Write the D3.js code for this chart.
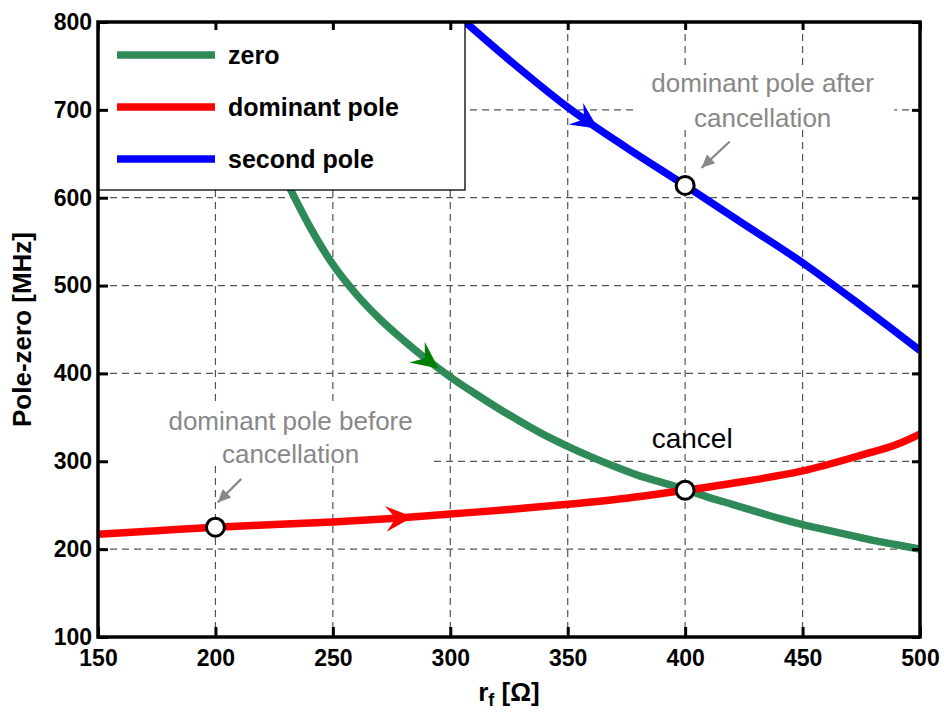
<!DOCTYPE html>
<html>
<head>
<meta charset="utf-8">
<style>
  body { margin: 0; background: #fff; }
  svg { display: block; font-family: "Liberation Sans", Arial, Helvetica, sans-serif; }
</style>
</head>
<body>
<div id="chart"></div>
<script src="https://cdn.jsdelivr.net/npm/d3@7"></script>
<script>
// axis ticks
var rfTicks = [150, 200, 250, 300, 350, 400, 450, 500];
var mhzTicks = [100, 200, 300, 400, 500, 600, 700, 800];

// zero
var zeroRf  = [200, 210, 220, 230, 240, 250, 260, 270, 280, 290, 300, 310, 320, 330, 340, 350,
               360, 370, 380, 390, 400, 410, 420, 430, 440, 450, 460, 470, 480, 490, 500];
var zeroMHz = [800, 738, 676, 620, 568, 524, 490, 462, 438, 416, 396, 378, 361, 345, 330, 317,
               305, 294, 284, 276, 268, 259, 251, 243, 235, 228, 222, 216, 210, 205, 200];

// dominant pole
var domRf  = [150, 175, 200, 225, 250, 275, 300, 325, 350, 375, 400, 425, 450, 475, 490, 500];
var domMHz = [217, 221, 225, 228, 231, 235, 240, 245, 251, 258, 267, 277, 289, 307, 319, 331];

// second pole
var secRf  = [300, 325, 350, 375, 400, 425, 450, 475, 500];
var secMHz = [815, 757, 703, 657, 614, 570, 526, 477, 426];

// open circles
var markRf  = [200, 400, 400];
var markMHz = [225, 267, 614];

// direction arrows on the curves
var flowSeries = ["second", "zero", "dominant"];
var flowRf     = [363, 295, 284];

var legendNames = ["zero", "dominant pole", "second pole"];

var width = 944, height = 713;
var margin = {top: 22, right: 24, bottom: 76, left: 98};

var svg = d3.select("#chart").append("svg")
  .attr("width", width)
  .attr("height", height);

var x = d3.scaleLinear().domain([150, 500]).range([margin.left, width - margin.right]);
var y = d3.scaleLinear().domain([100, 800]).range([height - margin.bottom, margin.top]);

var series = [
  {name: "zero",     rf: zeroRf, mhz: zeroMHz, color: "#2e8b57", head: "#008000"},
  {name: "dominant", rf: domRf,  mhz: domMHz,  color: "#ff0000", head: "#ff0000"},
  {name: "second",   rf: secRf,  mhz: secMHz,  color: "#0000ff", head: "#0000ff"}
];

svg.append("clipPath").attr("id", "plotclip")
  .append("rect")
  .attr("x", x(150)).attr("y", y(800))
  .attr("width", x(500) - x(150)).attr("height", y(100) - y(800));

// grid
var grid = svg.append("g").attr("class", "grid")
  .attr("stroke", "#555").attr("stroke-width", 1.2).attr("stroke-dasharray", "7,5");
grid.selectAll("line.v").data(rfTicks.slice(1, -1)).enter().append("line")
  .attr("x1", d => x(d)).attr("x2", d => x(d))
  .attr("y1", y(800)).attr("y2", y(100));
grid.selectAll("line.h").data(mhzTicks.slice(1, -1)).enter().append("line")
  .attr("x1", x(150)).attr("x2", x(500))
  .attr("y1", d => y(d)).attr("y2", d => y(d));

// curves
var line = d3.line()
  .x(d => x(d[0])).y(d => y(d[1]))
  .curve(d3.curveMonotoneX);

var curves = svg.append("g").attr("clip-path", "url(#plotclip)");
series.forEach(function (s) {
  s.path = curves.append("path")
    .datum(s.rf.map((r, i) => [r, s.mhz[i]]))
    .attr("fill", "none")
    .attr("stroke", s.color)
    .attr("stroke-width", 7.5)
    .attr("stroke-linejoin", "round")
    .attr("d", line);
});

// find a point + direction on a drawn path at a given rf
function pointAt(pathNode, px) {
  var len = pathNode.getTotalLength(), lo = 0, hi = len;
  for (var k = 0; k < 40; k++) {
    var mid = (lo + hi) / 2;
    if (pathNode.getPointAtLength(mid).x < px) lo = mid; else hi = mid;
  }
  var p = pathNode.getPointAtLength(lo);
  var a = pathNode.getPointAtLength(Math.max(0, lo - 3));
  var b = pathNode.getPointAtLength(Math.min(len, lo + 3));
  return {x: p.x, y: p.y, angle: Math.atan2(b.y - a.y, b.x - a.x) * 180 / Math.PI};
}

// notched arrow head, tip at origin pointing +x
var headPath = "M0,0 L-27,-13 L-17,0 L-27,13 Z";

flowSeries.forEach(function (name, i) {
  var s = series.find(d => d.name == name);
  var p = pointAt(s.path.node(), x(flowRf[i]));
  svg.append("path")
    .attr("d", headPath)
    .attr("fill", s.head)
    .attr("transform", "translate(" + p.x + "," + p.y + ") rotate(" + p.angle + ")");
});

// open circles
svg.selectAll("circle.mark").data(markRf).enter().append("circle")
  .attr("cx", d => x(d))
  .attr("cy", (d, i) => y(markMHz[i]))
  .attr("r", 9)
  .attr("fill", "#fff")
  .attr("stroke", "#000")
  .attr("stroke-width", 3);

// gray annotations with white background
function note(lines, rf, mhz, leftToAxis) {
  var g = svg.append("g");
  var bg = g.append("rect").attr("fill", "#fff");
  var t = g.append("text")
    .attr("text-anchor", "middle")
    .attr("font-size", 26)
    .attr("fill", "#888");
  lines.forEach(function (l, i) {
    t.append("tspan").attr("x", x(rf)).attr("y", y(mhz[i])).text(l);
  });
  var bb = t.node().getBBox();
  var left = leftToAxis ? x(150) + 2 : bb.x - 17;
  bg.attr("x", left).attr("y", bb.y)
    .attr("width", bb.x + bb.width + 20 - left)
    .attr("height", bb.height - 4);
}

function grayArrow(rf0, mhz0, rf1, mhz1) {
  var x0 = x(rf0), y0 = y(mhz0), x1 = x(rf1), y1 = y(mhz1);
  var ang = Math.atan2(y1 - y0, x1 - x0) * 180 / Math.PI;
  svg.append("line")
    .attr("x1", x0).attr("y1", y0).attr("x2", x1).attr("y2", y1)
    .attr("stroke", "#888").attr("stroke-width", 2.2);
  svg.append("path")
    .attr("d", "M0,0 L-13,-6 L-13,6 Z")
    .attr("fill", "#888")
    .attr("transform", "translate(" + x1 + "," + y1 + ") rotate(" + ang + ")");
}

note(["dominant pole after", "cancellation"], 433, [720, 680], false);
note(["dominant pole before", "cancellation"], 232, [336, 298], true);
grayArrow(419, 664, 407, 634);
grayArrow(211, 280, 201, 253);

svg.append("text")
  .attr("x", x(403)).attr("y", y(315))
  .attr("text-anchor", "middle")
  .attr("font-size", 28)
  .attr("fill", "#000")
  .text("cancel");

// legend
var legend = svg.append("g");
legend.append("rect")
  .attr("x", x(150)).attr("y", y(800))
  .attr("width", 367).attr("height", 168)
  .attr("fill", "#fff").attr("stroke", "#000").attr("stroke-width", 1.3);
legendNames.forEach(function (name, i) {
  var ly = y(800) + 33 + i * 52;
  legend.append("line")
    .attr("x1", x(150) + 19).attr("x2", x(150) + 117)
    .attr("y1", ly).attr("y2", ly)
    .attr("stroke", series[i].color)
    .attr("stroke-width", 7.5);
  legend.append("text")
    .attr("x", x(150) + 130).attr("y", ly)
    .attr("dy", "0.35em")
    .attr("font-size", 25)
    .attr("font-weight", "bold")
    .text(name);
});

// axes
var axisFont = function (g) {
  g.select(".domain").remove();
  g.selectAll(".tick line").attr("stroke", "#000").attr("stroke-width", 3);
  g.selectAll(".tick text")
    .attr("font-size", 23)
    .attr("font-weight", "bold")
    .attr("font-family", "'Liberation Sans', Arial, sans-serif")
    .attr("fill", "#000");
};

svg.append("g")
  .attr("transform", "translate(0," + y(100) + ")")
  .call(d3.axisBottom(x).tickValues(rfTicks).tickSize(-10).tickPadding(13))
  .call(axisFont);
svg.append("g")
  .attr("transform", "translate(0," + y(800) + ")")
  .call(d3.axisTop(x).tickValues(rfTicks).tickSize(-8).tickFormat(""))
  .call(axisFont);
svg.append("g")
  .attr("transform", "translate(" + x(150) + ",0)")
  .call(d3.axisLeft(y).tickValues(mhzTicks).tickSize(-10).tickPadding(6))
  .call(axisFont);
svg.append("g")
  .attr("transform", "translate(" + x(500) + ",0)")
  .call(d3.axisRight(y).tickValues(mhzTicks).tickSize(-8).tickFormat(""))
  .call(axisFont);

svg.append("rect")
  .attr("x", x(150)).attr("y", y(800))
  .attr("width", x(500) - x(150)).attr("height", y(100) - y(800))
  .attr("fill", "none").attr("stroke", "#000").attr("stroke-width", 3.5);

// axis titles
var xt = svg.append("text")
  .attr("x", (x(150) + x(500)) / 2).attr("y", 701)
  .attr("text-anchor", "middle")
  .attr("font-size", 26)
  .attr("font-weight", "bold");
xt.append("tspan").text("r");
xt.append("tspan").attr("font-size", 18).attr("dy", 5).text("f");
xt.append("tspan").attr("dy", -5).text(" [Ω]");

svg.append("text")
  .attr("transform", "translate(31," + (y(100) + y(800)) / 2 + ") rotate(-90)")
  .attr("text-anchor", "middle")
  .attr("font-size", 26)
  .attr("font-weight", "bold")
  .text("Pole-zero [MHz]");
</script>
</body>
</html>
